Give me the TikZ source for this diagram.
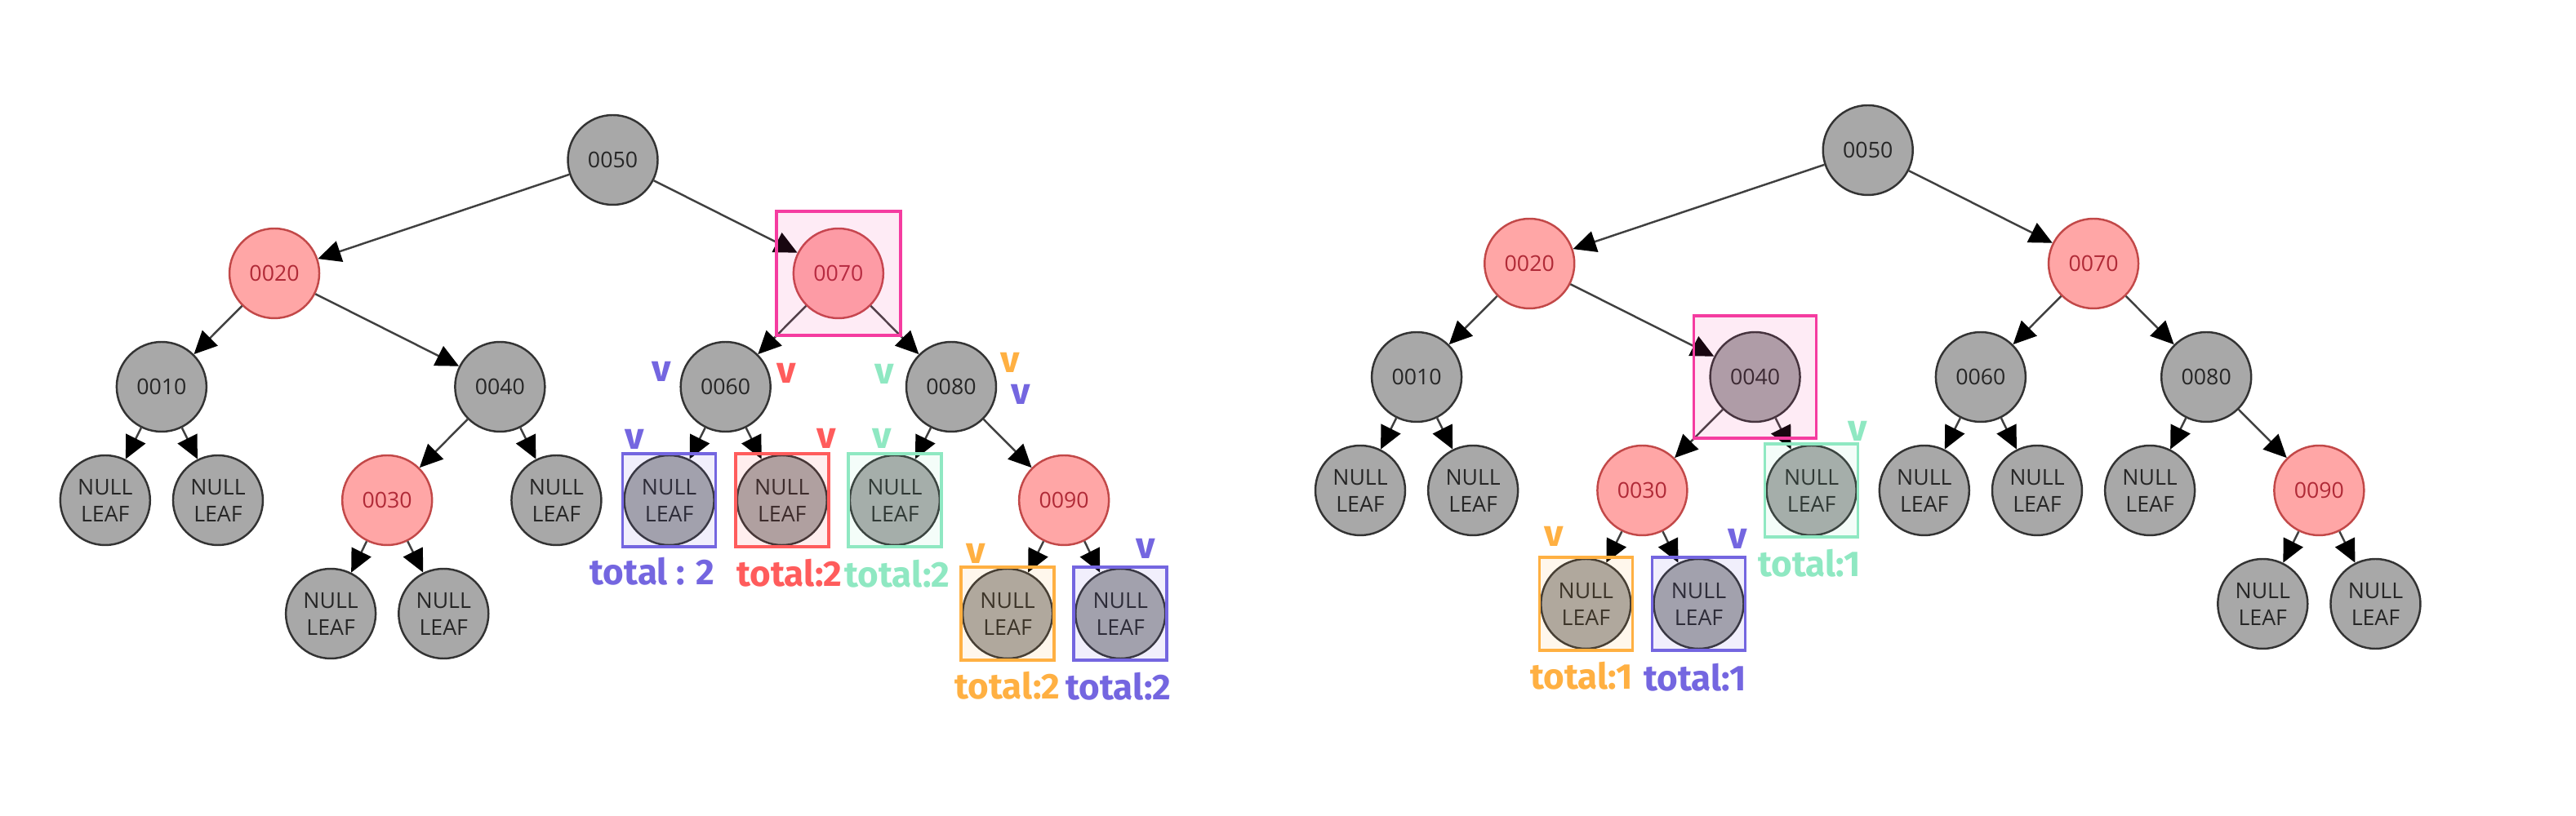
\documentclass[tikz,border=0pt]{standalone}
\usepackage{fontspec}
\setmainfont{Open Sans}
\newfontfamily\handfont{Fira Sans}
\usetikzlibrary{arrows.meta}
\definecolor{nodegray}{HTML}{A8A8A8}
\definecolor{nodered}{HTML}{FFA6A6}
\definecolor{rededge}{HTML}{C24848}
\definecolor{redtext}{HTML}{B02A37}
\definecolor{hlpink}{HTML}{F53CA0}
\definecolor{hlpurple}{HTML}{7466E0}
\definecolor{hlred}{HTML}{FF5C5C}
\definecolor{hlgreen}{HTML}{8FE8C2}
\definecolor{hlorange}{HTML}{FFB042}

\begin{document}
\begin{tikzpicture}[>={Triangle[length=8pt,width=7.5pt,color=black]},
  every node/.style={font=\fontsize{7.6pt}{9.4pt}\selectfont},
  blk/.style={circle,draw=black!80,line width=0.7pt,fill=nodegray,text=black!85,minimum size=1.1cm,inner sep=0pt},
  rd/.style={blk,draw=rededge,fill=nodered,text=redtext},
  nilleaf/.style={blk,align=center},
  link/.style={->,draw=black!75,line width=0.7pt},
  hlbox/.style={rectangle,draw=#1,fill=#1,fill opacity=0.1,line width=1pt,minimum size=1.14cm,inner sep=0pt},
  checkv/.style={text=#1,font=\handfont\bfseries\fontsize{13pt}{14pt}\selectfont,inner sep=0pt},
  tally/.style={text=#1,font=\handfont\bfseries\fontsize{12.5pt}{14pt}\selectfont,inner sep=0pt}]
\useasboundingbox (0,0) rectangle (31.55,-10);
% both trees, same shape
\foreach \t/\dx/\dy in {L/1.288/1.96,R/16.66/1.84}{
  \begin{scope}[shift={(\dx cm,-\dy cm)},x=0.6908cm,y=-1.39cm]
    \foreach \k/\s/\l/\sty in {50/9/0/blk,20/3/1/rd,70/13/1/rd,10/1/2/blk,40/7/2/blk,
                               60/11/2/blk,80/15/2/blk,30/5/3/rd,90/17/3/rd}
      \node[\sty] (\t\k) at (\s,\l) {00\k};
    \foreach \s/\l in {0/3,2/3,8/3,10/3,12/3,14/3,4/4,6/4,16/4,18/4}
      \node[nilleaf] (\t n\s) at (\s,\l) {NULL\\LEAF};
    \foreach \a/\b in {50/20,50/70,20/10,20/40,70/60,70/80,10/n0,10/n2,40/30,40/n8,
                       60/n10,60/n12,80/n14,80/90,30/n4,30/n6,90/n16,90/n18}
      \draw[link] (\t\a) -- (\t\b);
  \end{scope}
}
% marked boxes, left tree
\node[hlbox=hlpink,minimum size=1.52cm] (Lsel) at (L70) {};
\node[hlbox=hlpurple] (Lbx10) at (Ln10) {};
\node[hlbox=hlred] (Lbx12) at (Ln12) {};
\node[hlbox=hlgreen] (Lbx14) at (Ln14) {};
\node[hlbox=hlorange] (Lbx16) at (Ln16) {};
\node[hlbox=hlpurple] (Lbx18) at (Ln18) {};
% marked boxes, right tree
\node[hlbox=hlpink,minimum size=1.5cm] (Rsel) at (R40) {};
\node[hlbox=hlgreen] (Rbx8) at (Rn8) {};
\node[hlbox=hlorange] (Rbx4) at (Rn4) {};
\node[hlbox=hlpurple] (Rbx6) at (Rn6) {};
% ticks
\foreach \c/\x/\y [count=\i] in {hlpurple/8.10/4.55,hlred/9.63/4.57,hlgreen/10.83/4.58,
    hlpurple/7.77/5.38,hlred/10.12/5.37,hlgreen/10.80/5.37,hlorange/12.37/4.44,
    hlpurple/12.50/4.83,hlorange/11.95/6.78,hlpurple/14.03/6.72,
    hlgreen/22.75/5.28,hlorange/19.03/6.57,hlpurple/21.28/6.60}
  \node[checkv=\c] (v\i) at (\x,-\y) {v};
% totals
\node[tally=hlpurple] (tL10) at (7.99,-7.00) {total : 2};
\node[tally=hlred] (tL12) at (9.67,-7.02) {total:2};
\node[tally=hlgreen] (tL14) at (10.99,-7.03) {total:2};
\node[tally=hlorange] (tL16) at (12.34,-8.40) {total:2};
\node[tally=hlpurple] (tL18) at (13.70,-8.41) {total:2};
\node[tally=hlgreen] (tR8) at (22.16,-6.90) {total:1};
\node[tally=hlorange] (tR4) at (19.37,-8.28) {total:1};
\node[tally=hlpurple] (tR6) at (20.76,-8.30) {total:1};
\end{tikzpicture}
\end{document}
